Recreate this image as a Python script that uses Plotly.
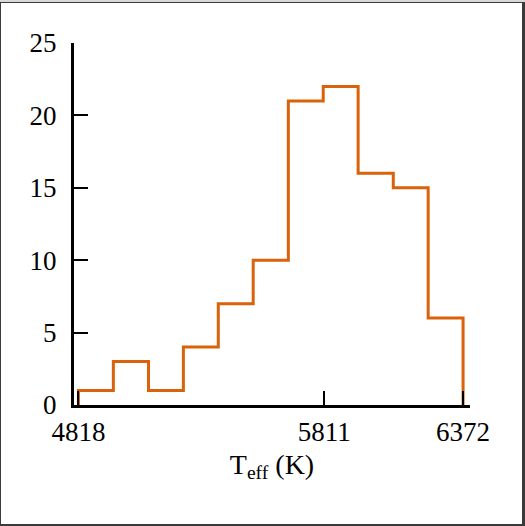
import plotly.graph_objects as go

# Teff histogram (11 bins between 4818 K and 6372 K)
bin_edges = [4818, 4959, 5101, 5242, 5383, 5524, 5666, 5807, 5948, 6090, 6231, 6372]
counts = [1, 3, 1, 4, 7, 10, 21, 22, 16, 15, 6]
tick_vals = [4818, 5811, 6372]
y_ticks = [0, 5, 10, 15, 20, 25]

W, H = 525, 526
ml, mr, mt, mb = 74, 55, 43, 121

# step outline: up from 0 at the first edge, down to 0 at the last
xs = bin_edges + [bin_edges[-1]]
ys = [0] + counts + [0]

fig = go.Figure()
fig.add_trace(go.Scatter(x=xs, y=ys, mode="lines", line_shape="vh",
                         line=dict(color="#d9620a", width=3),
                         hoverinfo="skip", showlegend=False))

font = dict(family="Liberation Serif, DejaVu Serif, serif", size=28, color="black")
tfont = dict(family="Liberation Serif, DejaVu Serif, serif", size=27, color="black")

fig.update_xaxes(range=[4800, 6400], tickvals=tick_vals,
                 ticktext=[str(v) for v in tick_vals],
                 ticks="inside", ticklen=14, tickwidth=1.5, tickcolor="black",
                 showline=True, linewidth=3, linecolor="black",
                 showgrid=False, zeroline=False, tickfont=tfont,
                 ticklabelstandoff=1,
                 title=dict(text="T<sub>eff</sub> (K)", font=font, standoff=8))
fig.update_yaxes(range=[0, 25], tickvals=y_ticks,
                 ticks="inside", ticklen=14, tickwidth=1.5, tickcolor="black",
                 showline=True, linewidth=3, linecolor="black",
                 showgrid=False, zeroline=False, tickfont=tfont,
                 ticklabelstandoff=9)

pw = W - ml - mr
ph = H - mt - mb


def px_x(p):
    return (p - ml) / pw


def px_y(p):
    return (H - mb - p) / ph


# white sheet inside a dark frame, light strip along the top
fig.add_shape(type="rect", xref="paper", yref="paper",
              x0=px_x(1), x1=px_x(522), y0=px_y(524), y1=px_y(3),
              line=dict(width=0), fillcolor="white", layer="below")
fig.add_shape(type="rect", xref="paper", yref="paper",
              x0=px_x(0), x1=px_x(525), y0=px_y(2), y1=px_y(0),
              line=dict(width=0), fillcolor="#d8d8d8", layer="below")

fig.update_layout(width=W, height=H, margin=dict(l=ml, r=mr, t=mt, b=mb),
                  plot_bgcolor="white", paper_bgcolor="#3a3a3a", font=font)

fig.write_html("out.html", config={"displayModeBar": False},
               post_script="document.body.style.margin='0px';"
                           "document.body.style.overflow='hidden';")
